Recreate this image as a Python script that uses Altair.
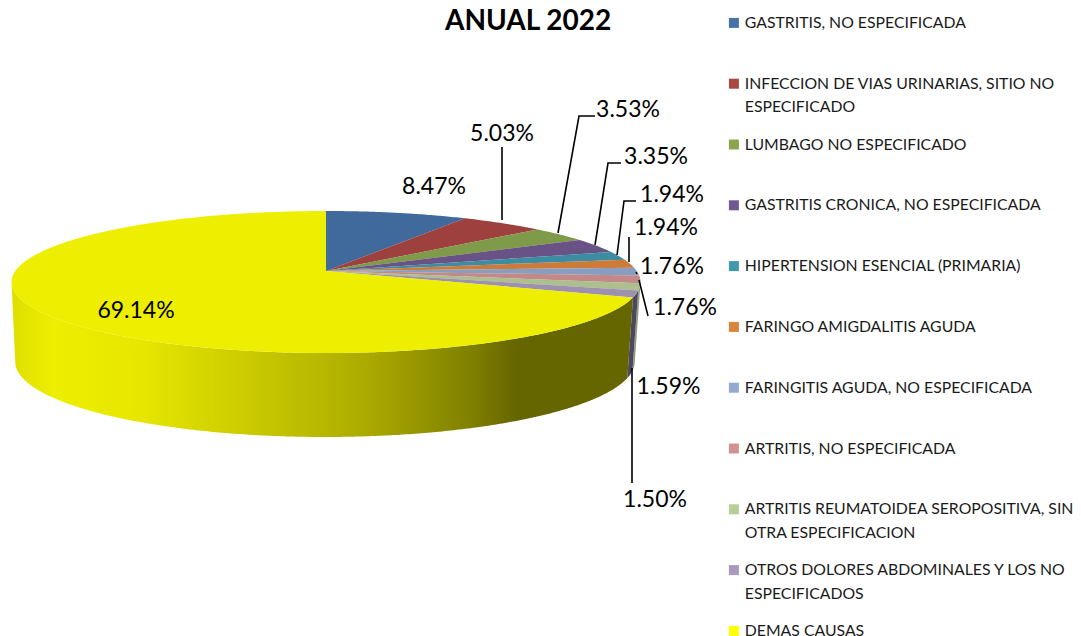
import numpy as np
import altair as alt

TITLE = "ANUAL 2022"
CATEGORIES = [
    "GASTRITIS, NO ESPECIFICADA",
    "INFECCION DE VIAS URINARIAS, SITIO NO ESPECIFICADO",
    "LUMBAGO NO ESPECIFICADO",
    "GASTRITIS CRONICA, NO ESPECIFICADA",
    "HIPERTENSION ESENCIAL (PRIMARIA)",
    "FARINGO AMIGDALITIS AGUDA",
    "FARINGITIS AGUDA, NO ESPECIFICADA",
    "ARTRITIS, NO ESPECIFICADA",
    "ARTRITIS REUMATOIDEA SEROPOSITIVA, SIN OTRA ESPECIFICACION",
    "OTROS DOLORES ABDOMINALES Y LOS NO ESPECIFICADOS",
    "DEMAS CAUSAS",
]
VALUES = [8.47, 5.03, 3.53, 3.35, 1.94, 1.94, 1.76, 1.76, 1.59, 1.50, 69.14]
COLORS = ["#4572A7", "#AA4643", "#89A54E", "#71588F", "#4198AF", "#DB843D",
          "#93A9CF", "#D19392", "#B9CD96", "#A99BBD", "#FFFF00"]
RIM_COLORS = ["#2a4263", "#652a28", "#51622e", "#433455", "#265a68", "#824e24",
              "#58657b", "#7c5857", "#8f9a80", "#4a4a5c", "#666600"]
WRAPPED = {
    CATEGORIES[1]: ["INFECCION DE VIAS URINARIAS, SITIO NO", "ESPECIFICADO"],
    CATEGORIES[8]: ["ARTRITIS REUMATOIDEA SEROPOSITIVA, SIN", "OTRA ESPECIFICACION"],
    CATEGORIES[9]: ["OTROS DOLORES ABDOMINALES Y LOS NO", "ESPECIFICADOS"],
}
LABEL_X = [434, 502, 628, 656, 672, 666, 672, 685, 668.5, 655, 136]
LABEL_Y = [187, 134, 110, 157, 195, 228, 267, 308, 387, 500, 311]
LEADERS = [
    [(502, 147), (502, 220)],
    [(595, 116), (579, 116), (558, 233)],
    [(621, 163), (608, 163), (595, 245)],
    [(636, 201), (624, 201), (617, 255)],
    [(629, 237), (629, 262)],
    [(636, 272), (637, 274)],
    [(639, 280), (648, 316)],
    [(632, 368), (632, 483)],
]

M = 8  # page margin
CX, CY, K, H, A = 326 - M, 271 - M, 0.155, 69.3, 310.7
BX, BY, BA, BH = 325 - M, 350 - M, 306.0, 73.5


def top(theta):
    t = np.radians(theta)
    u, v = np.sin(t), -np.cos(t)
    w = 1 - K * v
    return CX + A * u / w, CY + H * v / w


def bottom(theta):
    t = np.radians(theta)
    u, v = np.sin(t), -np.cos(t)
    w = 1 - K * v
    return BX + BA * u / w, BY + BH * v / w


def ring(xs, ys):
    pts = [[float(a), float(b)] for a, b in zip(xs, ys)]
    pts.append(pts[0])
    return pts


def feature(coords, kind="Polygon", **props):
    return {"type": "Feature", "geometry": {"type": kind, "coordinates": coords},
            "properties": props}


cum = np.concatenate([[0], np.cumsum(VALUES)])
ang = cum / cum[-1] * 360
slices, rims = [], []
R_START, R_END = 98.9, 261.0
for i, cat in enumerate(CATEGORIES):
    a0, a1 = ang[i], ang[i + 1]
    th = np.linspace(a0, a1, max(4, int((a1 - a0) * 2)))
    x, y = top(th)
    slices.append(feature([ring(np.r_[CX, x], np.r_[CY, y])], cat=cat))
    r0, r1 = max(a0, R_START), min(a1, R_END)
    if r1 > r0:
        th = np.linspace(r0, r1, max(4, int((r1 - r0) * 2)))
        xt, yt = top(th)
        xb, yb = bottom(th[::-1])
        rims.append(feature([ring(np.r_[xt, xb], np.r_[yt, yb])], cat=cat, fill=RIM_COLORS[i]))

th = np.linspace(0, 360, 361)
x, y = top(th)
shade = [feature([ring(x, y)])]
lines = [feature([[p[0] - M, p[1] - M] for p in L], kind="LineString") for L in LEADERS]
labels = [{"lon": a - M, "lat": b - M, "text": f"{v:.2f}%"}
          for a, b, v in zip(LABEL_X, LABEL_Y, VALUES)]

PROJ = dict(type="identity", scale=1, translate=[0, 0])

# entries above the last one have two text lines so that all rows take the same height
label_expr = f"datum.label === '{CATEGORIES[-1]}' ? datum.label : [datum.label, '']"
for k, v in WRAPPED.items():
    arr = "[" + ", ".join(f"'{s}'" for s in v) + "]"
    label_expr = f"datum.label === '{k}' ? {arr} : ({label_expr})"

rim_side = alt.Chart(alt.Data(values=[r for r in rims if r["properties"]["cat"] != CATEGORIES[-1]])).mark_geoshape(
    strokeWidth=0).encode(fill=alt.Color("properties.fill:N", scale=None)).project(**PROJ)
rim_main = alt.Chart(alt.Data(values=[r for r in rims if r["properties"]["cat"] == CATEGORIES[-1]])).mark_geoshape(
    strokeWidth=0,
    fill=alt.Gradient(gradient="linear", x1=0, x2=1, y1=0, y2=0, stops=[
        alt.GradientStop(offset=0, color="#dfdf00"),
        alt.GradientStop(offset=0.07, color="#eeee00"),
        alt.GradientStop(offset=0.21, color="#e6e600"),
        alt.GradientStop(offset=0.52, color="#b4b400"),
        alt.GradientStop(offset=0.58, color="#a8a800"),
        alt.GradientStop(offset=0.74, color="#808000"),
        alt.GradientStop(offset=0.81, color="#666600"),
        alt.GradientStop(offset=1, color="#666600"),
    ])).project(**PROJ)
pie = alt.Chart(alt.Data(values=slices)).mark_geoshape(strokeWidth=0).encode(
    color=alt.Color("properties.cat:N",
                    scale=alt.Scale(domain=CATEGORIES, range=COLORS),
                    sort=CATEGORIES,
                    legend=alt.Legend(title=None, orient="none", legendX=726 - M, legendY=15 - M,
                                      padding=0, symbolType="square", symbolSize=100,
                                      symbolStrokeWidth=0, labelFont="Lato", labelFontSize=15.8,
                                      labelColor="#1a1a1a", labelOffset=3, labelLimit=400,
                                      rowPadding=19.8, labelExpr=label_expr))
).project(**PROJ)
overlay = alt.Chart(alt.Data(values=shade)).mark_geoshape(fill="#000000", fillOpacity=0.067, strokeWidth=0).project(**PROJ)
leader = alt.Chart(alt.Data(values=lines)).mark_geoshape(filled=False, stroke="#000000", strokeWidth=1.6).project(**PROJ)
text = alt.Chart(alt.Data(values=labels)).mark_text(font="Lato", fontSize=23, color="#000000").encode(
    longitude="lon:Q", latitude="lat:Q", text="text:N").project(**PROJ)

chart = alt.layer(rim_main, rim_side, pie, overlay, leader, text).properties(
    width=1065, height=628, padding=0, autosize=alt.AutoSizeParams(type="none"),
    title=alt.TitleParams(TITLE, anchor="start", dx=437, offset=-28, baseline="top",
                          font="Lato", fontSize=28, fontWeight="bold", color="#000000"),
).configure_view(strokeWidth=0)
chart.config["style"] = {"guide-label": {"lineHeight": 23.5}}

chart.save("out.html", embed_options={"renderer": "svg", "actions": False})
